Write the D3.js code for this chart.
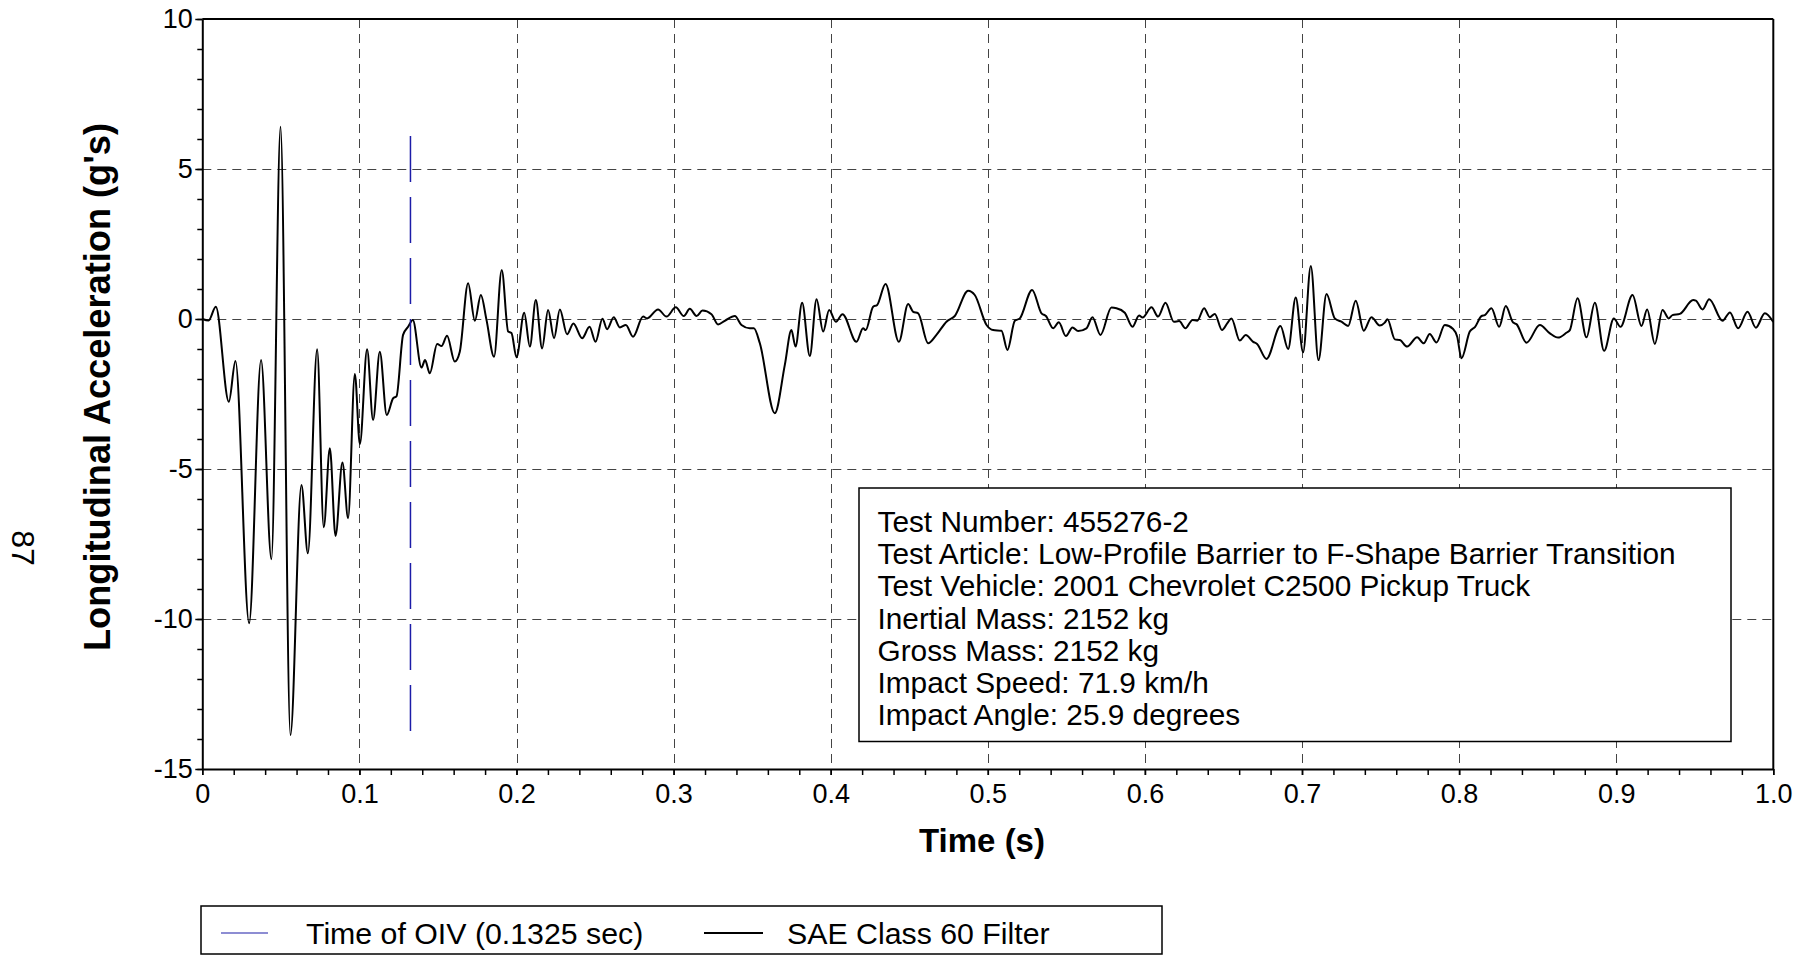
<!DOCTYPE html>
<html>
<head>
<meta charset="utf-8">
<script src="https://cdn.jsdelivr.net/npm/d3@7"></script>
<style>
  html, body { margin: 0; padding: 0; background: #fff; }
  svg { display: block; }
  text { font-family: "Liberation Sans", Arial, sans-serif; fill: #000; }
</style>
</head>
<body>
<svg id="chart" width="1813" height="957"></svg>
<script>
// Longitudinal acceleration trace (SAE Class 60 filtered), time in seconds, acceleration in g's
const time = [
  0, 0.004, 0.0086, 0.0169, 0.0211, 0.0298, 0.0374, 0.044, 0.0498, 0.0561,
  0.0631, 0.0672, 0.0731, 0.0773, 0.0812, 0.0848, 0.0892, 0.0928, 0.0971, 0.1003,
  0.1049, 0.1087, 0.113, 0.1174, 0.1215, 0.1236, 0.1278, 0.131, 0.134, 0.1395,
  0.1418, 0.1448, 0.1495, 0.1523, 0.1558, 0.1607, 0.1639, 0.1692, 0.1735, 0.1773,
  0.1809, 0.1857, 0.1906, 0.1947, 0.1968, 0.2, 0.2049, 0.2085, 0.2123, 0.2163,
  0.2201, 0.2239, 0.2276, 0.2322, 0.2362, 0.2418, 0.2465, 0.2503, 0.2547, 0.2577,
  0.2619, 0.2658, 0.2696, 0.2742, 0.2806, 0.2831, 0.2901, 0.2955, 0.3014, 0.3065,
  0.3103, 0.3146, 0.3184, 0.3241, 0.3283, 0.3326, 0.339, 0.3432, 0.3485, 0.3511,
  0.3549, 0.3644, 0.3708, 0.375, 0.3776, 0.3818, 0.3867, 0.391, 0.3952, 0.399,
  0.4033, 0.4075, 0.4164, 0.4206, 0.4223, 0.427, 0.4296, 0.4349, 0.4434, 0.4493,
  0.4525, 0.4557, 0.462, 0.4673, 0.4737, 0.479, 0.4875, 0.4917, 0.4992, 0.5034,
  0.5087, 0.5125, 0.5172, 0.5204, 0.5282, 0.5342, 0.537, 0.5416, 0.5452, 0.5497,
  0.5539, 0.5575, 0.5628, 0.5666, 0.5717, 0.5787, 0.5819, 0.5872, 0.5921, 0.5963,
  0.5985, 0.6042, 0.6084, 0.6131, 0.6184, 0.6218, 0.6258, 0.6303, 0.6333, 0.6377,
  0.6413, 0.6445, 0.6491, 0.6525, 0.6551, 0.6604, 0.6642, 0.6689, 0.6714, 0.6774,
  0.6863, 0.6912, 0.696, 0.7007, 0.7056, 0.7105, 0.7156, 0.7209, 0.7251, 0.7294,
  0.7342, 0.7393, 0.7442, 0.7495, 0.7527, 0.7544, 0.7591, 0.7623, 0.7669, 0.7733,
  0.7775, 0.7813, 0.7856, 0.7909, 0.7962, 0.7988, 0.8015, 0.8068, 0.8102, 0.8143,
  0.8164, 0.8206, 0.8255, 0.8297, 0.8344, 0.8365, 0.8429, 0.8514, 0.8578, 0.863,
  0.8683, 0.8705, 0.8754, 0.8811, 0.8864, 0.8923, 0.8985, 0.9027, 0.9104, 0.9161,
  0.9197, 0.9246, 0.9295, 0.9335, 0.9358, 0.9405, 0.949, 0.9507, 0.955, 0.9592,
  0.9677, 0.9724, 0.9776, 0.9836, 0.9889, 0.9946, 1.0
];
const accel = [
  0, -0.05, 0.41, -2.76, -1.4, -10.14, -1.37, -8.01, 6.41, -13.87,
  -5.53, -7.81, -1.01, -6.94, -4.31, -7.23, -4.78, -6.64, -1.83, -4.17,
  -1.01, -3.37, -1.09, -3.2, -2.64, -2.58, -0.53, -0.26, -0.03, -1.62,
  -1.37, -1.81, -0.83, -0.9, -0.56, -1.42, -1.09, 1.19, -0.06, 0.8,
  -0.03, -1.26, 1.63, -0.42, -0.47, -1.28, 0.21, -0.92, 0.63, -0.98,
  0.3, -0.64, 0.32, -0.51, -0.15, -0.64, -0.26, -0.76, 0.01, -0.34,
  0.06, -0.28, -0.2, -0.59, 0.08, 0.02, 0.32, 0.08, 0.39, 0.1,
  0.34, 0.1, 0.28, 0.16, -0.18, -0.06, 0.1, -0.2, -0.31, -0.31,
  -0.81, -3.14, -1.53, -0.37, -0.92, 0.54, -1.23, 0.66, -0.42, 0.3,
  -0.09, 0.16, -0.76, -0.31, -0.37, 0.41, 0.47, 1.17, -0.76, 0.5,
  0.24, 0.19, -0.81, -0.53, -0.09, 0.1, 0.94, 0.8, -0.2, -0.37,
  -0.39, -1.03, -0.06, 0.02, 0.97, 0.19, 0.1, -0.31, -0.11, -0.57,
  -0.28, -0.4, -0.31, 0.06, -0.53, 0.38, 0.36, 0.21, -0.26, 0.12,
  0.05, 0.39, 0.08, 0.54, -0.09, -0.07, -0.31, -0.03, -0.06, 0.36,
  0.06, 0.17, -0.37, -0.14, 0.02, -0.72, -0.53, -0.76, -0.83, -1.33,
  -0.23, -1.0, 0.72, -1.11, 1.77, -1.37, 0.83, 0.02, -0.09, -0.23,
  0.61, -0.39, 0.06, -0.22, -0.12, -0.01, -0.68, -0.7, -0.92, -0.61,
  -0.81, -0.5, -0.78, -0.2, -0.33, -0.59, -1.31, -0.42, -0.26, 0.1,
  0.13, 0.36, -0.26, 0.43, -0.12, -0.17, -0.79, -0.2, -0.48, -0.62,
  -0.46, -0.37, 0.69, -0.61, 0.54, -1.06, 0.02, -0.26, 0.8, -0.23,
  0.32, -0.83, 0.3, 0.02, 0.13, 0.17, 0.63, 0.61, 0.32, 0.66,
  -0.06, 0.22, -0.31, 0.24, -0.29, 0.19, -0.1
];

// Time of occupant impact velocity marker
const oivTime = 0.1325;
const oivSpan = [6.1, -13.87];

// Axis ticks and labels
const xMajorTicks = [0, 0.1, 0.2, 0.3, 0.4, 0.5, 0.6, 0.7, 0.8, 0.9, 1.0];
const xTickLabels = ["0", "0.1", "0.2", "0.3", "0.4", "0.5", "0.6", "0.7", "0.8", "0.9", "1.0"];
const xMinorTicks = d3.range(0, 51).map(i => i / 50);
const yMajorTicks = [10, 5, 0, -5, -10, -15];
const yTickLabels = ["10", "5", "0", "-5", "-10", "-15"];
const yMinorTicks = d3.range(-15, 11);
const xGrid = [0.1, 0.2, 0.3, 0.4, 0.5, 0.6, 0.7, 0.8, 0.9];
const yGrid = [5, 0, -5, -10];

// Test information block
const infoLines = [
  "Test Number: 455276-2",
  "Test Article: Low-Profile Barrier to F-Shape Barrier Transition",
  "Test Vehicle: 2001 Chevrolet C2500 Pickup Truck",
  "Inertial Mass: 2152 kg",
  "Gross Mass: 2152 kg",
  "Impact Speed: 71.9 km/h",
  "Impact Angle: 25.9 degrees"
];
const legendLabels = ["Time of OIV (0.1325 sec)", "SAE Class 60 Filter"];

const svg = d3.select("#chart");
const plot = { left: 202.3, right: 1773.3, top: 19, bottom: 769 };

const x = d3.scaleLinear().domain([0, 1]).range([plot.left, plot.right]);
const y = d3.scaleLinear().domain([-15, 10]).range([plot.bottom, plot.top]);

const blue = "#1c1ca8";

// Grid
const grid = svg.append("g").attr("stroke", "#444").attr("stroke-width", 1)
  .attr("stroke-dasharray", "9,6").attr("fill", "none");
grid.selectAll("line.vx").data(xGrid).join("line")
  .attr("x1", d => Math.round(x(d)) + 0.5).attr("x2", d => Math.round(x(d)) + 0.5)
  .attr("y1", plot.top).attr("y2", plot.bottom);
grid.selectAll("line.hy").data(yGrid).join("line")
  .attr("y1", d => Math.round(y(d)) + 0.5).attr("y2", d => Math.round(y(d)) + 0.5)
  .attr("x1", plot.left).attr("x2", plot.right);

// Frame (top and right)
svg.append("line").attr("x1", plot.left).attr("x2", plot.right)
  .attr("y1", plot.top).attr("y2", plot.top).attr("stroke", "#000").attr("stroke-width", 2);
svg.append("line").attr("x1", plot.right).attr("x2", plot.right)
  .attr("y1", plot.top).attr("y2", plot.bottom).attr("stroke", "#000").attr("stroke-width", 2);

// Minor ticks
svg.append("g").attr("transform", `translate(0,${plot.bottom})`)
  .call(d3.axisBottom(x).tickValues(xMinorTicks).tickSize(6).tickSizeOuter(0).tickFormat(""))
  .call(g => g.select(".domain").remove())
  .call(g => g.selectAll("line").attr("stroke-width", 1.5));
svg.append("g").attr("transform", `translate(${plot.left},0)`)
  .call(d3.axisLeft(y).tickValues(yMinorTicks).tickSize(5).tickSizeOuter(0).tickFormat(""))
  .call(g => g.select(".domain").remove())
  .call(g => g.selectAll("line").attr("stroke-width", 1.5));

// Major axes with labels
const xAxis = svg.append("g").attr("transform", `translate(0,${plot.bottom})`)
  .call(d3.axisBottom(x).tickValues(xMajorTicks).tickSize(6).tickPadding(9).tickSizeOuter(0)
    .tickFormat((d, i) => xTickLabels[i]));
const yAxis = svg.append("g").attr("transform", `translate(${plot.left},0)`)
  .call(d3.axisLeft(y).tickValues(yMajorTicks).tickSize(7).tickPadding(2.5).tickSizeOuter(0)
    .tickFormat((d, i) => yTickLabels[i]));
[xAxis, yAxis].forEach(a => {
  a.attr("font-family", "Liberation Sans, Arial, sans-serif").attr("font-size", 27);
  a.select(".domain").attr("stroke", "#000").attr("stroke-width", 2);
  a.selectAll(".tick line").attr("stroke-width", 1.5);
  a.selectAll(".tick text").attr("fill", "#000");
});

// Acceleration trace
const line = d3.line()
  .x((d, i) => x(time[i]))
  .y(d => y(d))
  .curve(d3.curveMonotoneX);
svg.append("path")
  .datum(accel)
  .attr("d", line)
  .attr("fill", "none")
  .attr("stroke", "#000")
  .attr("stroke-width", 2)
  .attr("stroke-linejoin", "round");

// OIV marker
svg.append("line")
  .attr("x1", x(oivTime)).attr("x2", x(oivTime))
  .attr("y1", y(oivSpan[0])).attr("y2", y(oivSpan[1]))
  .attr("stroke", blue).attr("stroke-width", 1.5)
  .attr("stroke-dasharray", "46,15");

// Info box
const box = { x0: 859, x1: 1731, y0: 488, y1: 741.5 };
svg.append("rect")
  .attr("x", box.x0).attr("y", box.y0)
  .attr("width", box.x1 - box.x0).attr("height", box.y1 - box.y0)
  .attr("fill", "#fff").attr("stroke", "#000").attr("stroke-width", 1.5);
svg.append("g").selectAll("text").data(infoLines).join("text")
  .attr("x", 877.5)
  .attr("y", (d, i) => 532 + i * 32.2)
  .attr("font-size", 29.8)
  .text(d => d);

// Axis titles
svg.append("text")
  .attr("x", 982).attr("y", 852)
  .attr("text-anchor", "middle")
  .attr("font-size", 33).attr("font-weight", "bold")
  .text("Time (s)");
svg.append("text")
  .attr("transform", "translate(110,387) rotate(-90)")
  .attr("text-anchor", "middle")
  .attr("font-size", 36.2).attr("font-weight", "bold")
  .text("Longitudinal Acceleration (g's)");

// Page number
svg.append("text")
  .attr("transform", "translate(12,548) rotate(90)")
  .attr("text-anchor", "middle")
  .attr("font-family", "Liberation Serif, Times New Roman, serif")
  .attr("font-size", 32)
  .text("87");

// Legend
const lg = { x0: 201, x1: 1162, y0: 906, y1: 954 };
svg.append("rect")
  .attr("x", lg.x0).attr("y", lg.y0)
  .attr("width", lg.x1 - lg.x0).attr("height", lg.y1 - lg.y0)
  .attr("fill", "#fff").attr("stroke", "#000").attr("stroke-width", 1.5);
const legendItems = [
  { label: legendLabels[0], color: blue, width: 1.2, sx0: 221, sx1: 268, tx: 306 },
  { label: legendLabels[1], color: "#000", width: 2, sx0: 704, sx1: 763, tx: 787 }
];
const li = svg.append("g").selectAll("g").data(legendItems).join("g");
li.append("line")
  .attr("x1", d => d.sx0).attr("x2", d => d.sx1)
  .attr("y1", 933).attr("y2", 933)
  .attr("stroke", d => d.color).attr("stroke-width", d => d.width);
li.append("text")
  .attr("x", d => d.tx).attr("y", 944)
  .attr("font-size", 30.3)
  .text(d => d.label);
</script>
</body>
</html>
